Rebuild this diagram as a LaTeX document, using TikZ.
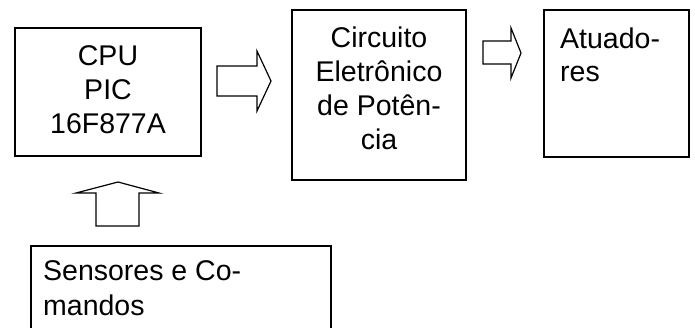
\documentclass[tikz,border=0pt]{standalone}
\usepackage{fontspec}
\setmainfont{Liberation Sans}
\begin{document}
\begin{tikzpicture}[x=1pt,y=-1pt,
  box/.style={draw,line width=1.4pt},
  blockarrow/.style={draw,line width=1.2pt,line join=miter},
  lbl/.style={inner sep=0pt,anchor=base,font=\fontsize{28.5}{34}\selectfont},
  lbll/.style={inner sep=0pt,anchor=base west,font=\fontsize{28.5}{34}\selectfont}]
\useasboundingbox (0,0) rectangle (695,327);
% boxes
\draw[box] (15,28) rectangle (201,156);
\coordinate (cpuE) at (201,81);
\draw[box] (292,10) rectangle (466,180);
\draw[box] (544,10) rectangle (689,157);
\draw[box] (31,340) -- (31,246) -- (331,246) -- (331,340);
% texts
\node[lbl] (t1) at (108,65) {CPU};
\node[lbl] (t2) at (108,99) {PIC};
\node[lbl] (t3) at (108,133) {16F877A};
\node[lbl] (c1) at (379,47) {Circuito};
\node[lbl] (c2) at (379,81) {Eletrônico};
\node[lbl] (c3) at (379,115) {de Potên-};
\node[lbl] (c4) at (379,149) {cia};
\node[lbll] (a1) at (560,48) {Atuado-};
\node[lbll] (a2) at (560,81) {res};
\node[lbll] (s1) at (43,280) {Sensores e Co-};
\node[lbll] (s2) at (43,315) {mandos};
% block arrows
\draw[blockarrow] (217,66) -- (257,66) -- (257,51) -- (271,81) -- (257,111) -- (257,96) -- (217,96) -- cycle;
\draw[blockarrow] (483,41) -- (511,41) -- (511,28) -- (521,53) -- (511,78) -- (511,64) -- (483,64) -- cycle;
\draw[blockarrow] (96,226) -- (96,193) -- (76,193) -- (118,182) -- (159,193) -- (139,193) -- (139,226) -- cycle;
\end{tikzpicture}
\end{document}
